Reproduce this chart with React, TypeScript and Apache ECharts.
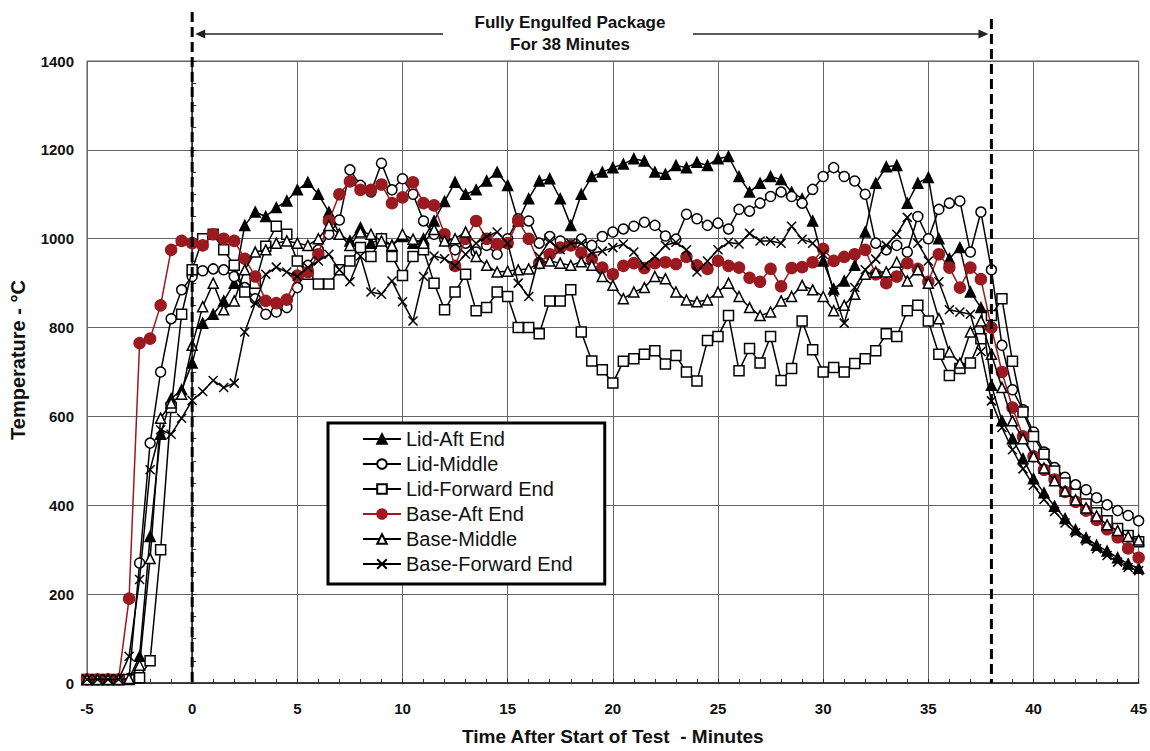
import React, { useEffect, useRef } from "react";
import * as echarts from "echarts";

// Time after start of test (minutes)
const TIME = [
  -5, -4.5, -4, -3.5, -3, -2.5, -2, -1.5, -1, -0.5,
  0, 0.5, 1, 1.5, 2, 2.5, 3, 3.5, 4, 4.5,
  5, 5.5, 6, 6.5, 7, 7.5, 8, 8.5, 9, 9.5,
  10, 10.5, 11, 11.5, 12, 12.5, 13, 13.5, 14, 14.5,
  15, 15.5, 16, 16.5, 17, 17.5, 18, 18.5, 19, 19.5,
  20, 20.5, 21, 21.5, 22, 22.5, 23, 23.5, 24, 24.5,
  25, 25.5, 26, 26.5, 27, 27.5, 28, 28.5, 29, 29.5,
  30, 30.5, 31, 31.5, 32, 32.5, 33, 33.5, 34, 34.5,
  35, 35.5, 36, 36.5, 37, 37.5, 38, 38.5, 39, 39.5,
  40, 40.5, 41, 41.5, 42, 42.5, 43, 43.5, 44, 44.5,
  45,
];

const LID_AFT = [
  8, 8, 8, 8, 10, 60, 330, 560, 640, 660,
  720, 810, 830, 860, 900, 1030, 1060, 1050, 1070, 1085,
  1110, 1127, 1100, 1060, 1010, 995, 1025, 990, 1000, 985,
  1005, 990, 1000, 1040, 1084, 1127, 1100, 1110, 1130, 1150,
  1120, 1040, 1090, 1130, 1135, 1090, 1030, 1100, 1140, 1150,
  1160, 1168, 1180, 1175, 1150, 1145, 1165, 1160, 1172, 1165,
  1180, 1185, 1140, 1105, 1125, 1140, 1133, 1105, 1090, 1040,
  950, 887, 905, 940, 1015, 1125, 1162, 1165, 1080, 1125,
  1138, 1000, 955, 980, 880, 845, 670, 590, 550, 505,
  460, 428, 398, 370, 345, 327, 310, 297, 282, 268,
  258,
];

const LID_MIDDLE = [
  8, 8, 8, 8, 10, 270, 540, 700, 820, 885,
  915, 928, 932, 930, 915, 890, 865, 830, 835, 845,
  890, 940, 975, 1010, 1042, 1155, 1120, 1105, 1170, 1110,
  1135, 1100, 1040, 1010, 1000, 975, 990, 970, 985, 965,
  1000, 1045, 1040, 990, 1005, 995, 985, 999, 985, 1005,
  1015, 1022, 1028, 1037, 1030, 1006, 999, 1055, 1045, 1030,
  1035, 1022, 1066, 1062, 1080, 1095, 1105, 1095, 1080, 1111,
  1140, 1160, 1140, 1130, 1100, 990, 975, 985, 970, 1050,
  1000, 1066, 1080, 1085, 970, 1060, 930, 760, 660, 615,
  565, 520, 485, 463, 446, 435, 417, 401, 388, 377,
  365,
];

const LID_FORWARD = [
  8, 8, 8, 8, 8, 12, 50, 300, 620, 830,
  930, 1000, 1010, 975, 940, 880, 900, 983, 1028, 1010,
  950, 920, 898, 898, 930, 950, 980, 960, 1000, 960,
  917, 960, 975, 900, 840, 880, 920, 838, 845, 880,
  870, 800, 800, 786, 860, 860, 885, 790, 725, 705,
  675, 724, 730, 740, 748, 718, 737, 700, 680, 771,
  780, 827, 703, 753, 720, 780, 681, 708, 815, 750,
  700, 710, 700, 719, 730, 748, 786, 780, 838, 850,
  815, 740, 692, 708, 720, 775, 827, 865, 724, 610,
  555, 515, 477, 450, 425, 403, 383, 365, 348, 332,
  318,
];

const BASE_AFT = [
  8, 8, 8, 8, 190, 765, 775, 850, 975, 995,
  990, 985, 1010, 1000, 995, 955, 915, 860, 855, 863,
  917, 925, 965, 1040, 1100, 1129, 1110, 1110, 1122, 1080,
  1093, 1127, 1080, 1075, 1010, 939, 1000, 1040, 1000, 988,
  990, 1040, 1000, 945, 965, 980, 985, 968, 955, 935,
  920, 939, 945, 934, 945, 947, 943, 959, 940, 932,
  950, 939, 935, 912, 903, 932, 893, 934, 936, 947,
  977, 950, 959, 965, 975, 920, 900, 915, 945, 932,
  903, 965, 935, 890, 935, 909, 800, 700, 620, 555,
  510, 480, 458, 430, 408, 388, 367, 346, 328, 303,
  282,
];

const BASE_MIDDLE = [
  8, 8, 8, 8, 10, 40, 280, 596, 630, 650,
  760, 847, 900, 840, 860, 930, 970, 975, 990, 995,
  990, 985, 1000, 1030, 1010, 985, 1015, 1010, 995, 985,
  1010, 999, 990, 1021, 995, 1000, 1015, 960, 940, 925,
  927, 930, 932, 945, 950, 945, 940, 948, 940, 915,
  895, 865, 880, 890, 915, 910, 880, 862, 858, 862,
  880, 900, 870, 845, 827, 835, 860, 870, 895, 885,
  870, 838, 850, 875, 920, 925, 925, 947, 905, 930,
  900, 820, 745, 720, 790, 815, 740, 665, 590, 550,
  510, 484, 455, 432, 412, 394, 376, 356, 343, 330,
  322,
];

const BASE_FORWARD = [
  8, 8, 8, 8, 60, 233, 480, 570, 560, 596,
  636, 656, 681, 665, 675, 790, 855, 920, 936, 925,
  915, 935, 950, 965, 930, 903, 961, 880, 875, 905,
  858, 815, 915, 961, 955, 939, 965, 990, 1005, 1015,
  990, 900, 870, 960, 995, 975, 990, 990, 968, 972,
  980, 988, 970, 940, 960, 985, 992, 975, 925, 950,
  975, 992, 988, 1012, 995, 995, 990, 1028, 999, 990,
  965, 880, 810, 890, 930, 954, 985, 1010, 1048, 990,
  950, 903, 840, 835, 830, 746, 635, 575, 525, 482,
  445, 413, 386, 360, 338, 320, 302, 287, 272, 260,
  253,
];

const SERIES_NAMES = [
  "Lid-Aft End",
  "Lid-Middle",
  "Lid-Forward End",
  "Base-Aft End",
  "Base-Middle",
  "Base-Forward End",
];

const X_MIN = -5;
const X_MAX = 45;
const X_STEP = 5;
const Y_MIN = 0;
const Y_MAX = 1400;
const Y_STEP = 200;

const ENGULF_START = 0;
const ENGULF_END = 38;
const NOTE_LINES = ["Fully Engulfed Package", "For 38 Minutes"];
const X_TITLE = "Time After Start of Test  - Minutes";
const Y_TITLE = "Temperature - °C";

const FONT = "'Liberation Sans', Arial, Helvetica, sans-serif";
const RED = "#9A1A20";
const X_SYMBOL = "path://M0,0L10,10M10,0L0,10";

export default function App() {
  const ref = useRef<HTMLDivElement>(null);

  useEffect(() => {
    if (!ref.current) return;
    const chart = echarts.init(ref.current, null, { renderer: "svg" });
    const pair = (ys: number[]) => TIME.map((t, i) => [t, ys[i]]);

    const mk = (
      name: string,
      ys: number[],
      symbol: string,
      size: number,
      fill: string,
      stroke: string,
      lineColor: string,
      z: number
    ) => ({
      type: "line",
      name,
      data: pair(ys),
      symbol,
      symbolSize: size,
      showSymbol: true,
      showAllSymbol: true,
      clip: true,
      lineStyle: { color: lineColor, width: 1.5 },
      itemStyle: { color: fill, borderColor: stroke, borderWidth: 1.5 },
      emphasis: { disabled: true },
      z,
    });

    const series = [
      mk(SERIES_NAMES[0], LID_AFT, "triangle", 10, "#000", "#000", "#000", 2),
      mk(SERIES_NAMES[1], LID_MIDDLE, "circle", 10, "#fff", "#000", "#000", 3),
      mk(SERIES_NAMES[2], LID_FORWARD, "rect", 10, "#fff", "#000", "#000", 4),
      mk(SERIES_NAMES[3], BASE_AFT, "circle", 11, RED, RED, RED, 5),
      mk(SERIES_NAMES[4], BASE_MIDDLE, "triangle", 10, "#fff", "#000", "#000", 6),
      mk(SERIES_NAMES[5], BASE_FORWARD, X_SYMBOL, 9, "#000", "#000", "#000", 7),
    ];

    chart.setOption({
      animation: false,
      backgroundColor: "#fff",
      textStyle: { fontFamily: FONT },
      grid: {
        left: 87,
        right: 11,
        top: 61,
        bottom: 65,
        show: true,
        borderColor: "#555",
        borderWidth: 1,
        backgroundColor: "transparent",
      },
      xAxis: {
        type: "value",
        min: X_MIN,
        max: X_MAX,
        interval: X_STEP,
        name: X_TITLE,
        nameLocation: "middle",
        nameGap: 44,
        nameTextStyle: { fontFamily: FONT, fontSize: 19, fontWeight: "bold", color: "#111" },
        axisLine: { show: true, onZero: false, lineStyle: { color: "#222", width: 1.5 } },
        axisTick: { show: true, inside: true, length: 4, lineStyle: { color: "#222" } },
        minorTick: { show: true, splitNumber: 5, length: 4, lineStyle: { color: "#333" } },
        axisLabel: {
          fontFamily: FONT,
          fontSize: 15,
          fontWeight: "bold",
          color: "#111",
          margin: 18,
          formatter: (v: number) => String(v),
        },
        splitLine: { show: true, lineStyle: { color: "#666", width: 1 } },
      },
      yAxis: {
        type: "value",
        min: Y_MIN,
        max: Y_MAX,
        interval: Y_STEP,
        axisLine: { show: true, lineStyle: { color: "#222", width: 1.5 } },
        axisTick: { show: true, inside: true, length: 4, lineStyle: { color: "#222" } },
        minorTick: { show: true, splitNumber: 4, length: 4, lineStyle: { color: "#333" } },
        axisLabel: {
          fontFamily: FONT,
          fontSize: 15,
          fontWeight: "bold",
          color: "#111",
          margin: 13,
          formatter: (v: number) => String(v),
        },
        splitLine: { show: true, lineStyle: { color: "#666", width: 1 } },
      },
      legend: {
        orient: "vertical",
        left: 328,
        top: 423,
        padding: [6, 32, 10, 34],
        itemWidth: 38,
        itemHeight: 12,
        itemGap: 5,
        backgroundColor: "#fff",
        borderColor: "#000",
        borderWidth: 3,
        textStyle: { fontFamily: FONT, fontSize: 20, color: "#111", lineHeight: 20 },
        data: SERIES_NAMES,
        z: 20,
      },
      series,
    });

    const xs = chart.convertToPixel({ xAxisIndex: 0 }, ENGULF_START) as number;
    const xe = chart.convertToPixel({ xAxisIndex: 0 }, ENGULF_END) as number;
    const yb = chart.convertToPixel({ yAxisIndex: 0 }, Y_MIN) as number;
    const arrowY = 34;
    const noteX = 570;
    const lineStroke = { stroke: "#222", lineWidth: 1.5 };
    const textStyle = (text: string, size: number) => ({
      text,
      fontFamily: FONT,
      fontSize: size,
      fontWeight: "bold",
      fill: "#111",
      textAlign: "center",
      textVerticalAlign: "middle",
    });

    chart.setOption({
      graphic: [
        {
          type: "line",
          shape: { x1: xs, y1: 12, x2: xs, y2: yb },
          style: { stroke: "#000", lineWidth: 3, lineDash: [10, 5] },
          z: 30,
        },
        {
          type: "line",
          shape: { x1: xe, y1: 19, x2: xe, y2: yb },
          style: { stroke: "#000", lineWidth: 3, lineDash: [10, 5] },
          z: 30,
        },
        {
          type: "line",
          shape: { x1: xs + 10, y1: arrowY, x2: noteX - 127, y2: arrowY },
          style: lineStroke,
          z: 30,
        },
        {
          type: "line",
          shape: { x1: noteX + 123, y1: arrowY, x2: xe - 10, y2: arrowY },
          style: lineStroke,
          z: 30,
        },
        {
          type: "polygon",
          shape: { points: [[xs + 3, arrowY], [xs + 13, arrowY - 4.5], [xs + 13, arrowY + 4.5]] },
          style: { fill: "#222" },
          z: 30,
        },
        {
          type: "polygon",
          shape: { points: [[xe - 3, arrowY], [xe - 13, arrowY - 4.5], [xe - 13, arrowY + 4.5]] },
          style: { fill: "#222" },
          z: 30,
        },
        { type: "text", x: noteX, y: 22, style: textStyle(NOTE_LINES[0], 17), z: 30 },
        { type: "text", x: noteX, y: 44, style: textStyle(NOTE_LINES[1], 17), z: 30 },
        {
          type: "text",
          x: 18,
          y: 360,
          rotation: Math.PI / 2,
          style: textStyle(Y_TITLE, 20),
          z: 30,
        },
      ],
    });

    return () => chart.dispose();
  }, []);

  return (
    <div
      ref={ref}
      style={{ position: "fixed", left: 0, top: 0, width: 1150, height: 751, background: "#fff" }}
    />
  );
}
